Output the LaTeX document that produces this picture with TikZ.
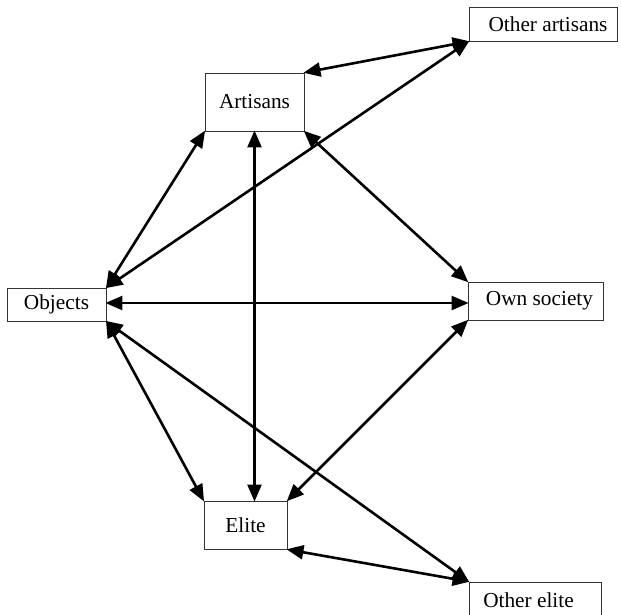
\documentclass[tikz,border=0pt]{standalone}
\usepackage{fontspec}
\setmainfont{Liberation Serif}
\usetikzlibrary{arrows.meta}
\begin{document}
\begin{tikzpicture}[x=1pt,y=-1pt,
  box/.style={draw=black!80,line width=0.9pt,inner sep=0pt,font=\fontsize{21.3}{24}\selectfont},
  link/.style={line width=2.6pt,{Triangle[length=17pt,width=14pt]}-{Triangle[length=17pt,width=14pt]},shorten <=-1pt,shorten >=-1pt}]
\useasboundingbox (0,0) rectangle (621,614);
\clip (0,0) rectangle (621,614);
\fill[white] (0,0) rectangle (621,614);
\node[box,minimum width=99pt,minimum height=58pt] (art) at (254.5,102) {Artisans};
\node[box,minimum width=99pt,minimum height=33pt] (obj) at (56.5,304.5) {Objects};
\node[box,minimum width=135pt,minimum height=38pt] (own) at (535.5,301) {\hspace*{8pt}Own society};
\node[box,minimum width=83pt,minimum height=48pt] (eli) at (245.5,525) {Elite};
\node[box,minimum width=148pt,minimum height=34pt] (oart) at (543,24) {\hspace*{10pt}Other artisans};
\node[box,minimum width=132pt,minimum height=36pt] (oeli) at (535,600) {Other elite\hspace*{13pt}};
\draw[link] (art.north east) -- (oart.south west);
\draw[link] (obj.north east) -- (oart.south west);
\draw[link] (obj.north east) -- (art.south west);
\draw[link] (art.south) -- (art.south |- eli.north);
\draw[link] (art.south east) -- (own.north west);
\draw[link] (obj.east |- 0,303) -- (own.west |- 0,303);
\draw[link] (obj.south east) -- (eli.north west);
\draw[link] (obj.south east) -- (oeli.north west);
\draw[link] (own.south west) -- (eli.north east);
\draw[link] (eli.south east) -- (oeli.north west);
\end{tikzpicture}
\end{document}
